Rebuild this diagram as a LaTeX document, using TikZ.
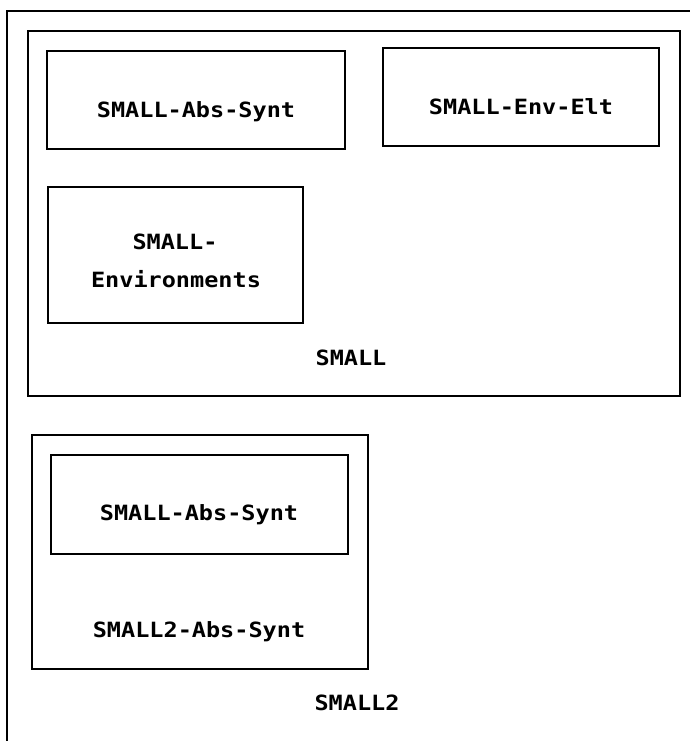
\documentclass[tikz,border=0pt]{standalone}
\usepackage{fontspec}
\newfontfamily\lblfont[FakeStretch=1.12]{DejaVu Sans Mono}
\usetikzlibrary{fit}
\begin{document}
\begin{tikzpicture}[x=1pt,y=-1pt,
  box/.style={draw, line width=2.1pt, inner sep=0pt},
  frame/.style={draw, line width=2.6pt},
  lbl/.style={font=\lblfont\bfseries\fontsize{21}{25}\selectfont, inner sep=0pt, text height=15pt, text depth=0pt, anchor=center}]
\useasboundingbox (0,0) rectangle (690,741);
% outer SMALL2 frame (runs off the right and bottom edges)
\coordinate (ftr) at (690,11);
\coordinate (ftl) at (7,11);
\coordinate (fbl) at (7,741);
\draw[frame] (ftr) -- (ftl) -- (fbl);
% SMALL container
\node[box, line width=2.4pt, fit={(28,31) (680,396)}] (small) {};
\node[box, fit={(47,51) (345,149)}] (sas) {};
\node[box, fit={(383,48) (659,146)}] (see) {};
\node[box, fit={(48,187) (303,323)}] (senv) {};
\node[lbl] (tsas) at (196,110) {SMALL-Abs-Synt};
\node[lbl] (tsee) at (521,107) {SMALL-Env-Elt};
\node[lbl] (tsenv1) at (175,242) {SMALL-};
\node[lbl] (tsenv2) at (176,280) {Environments};
\node[lbl] (tsmall) at (351,358) {SMALL};
% SMALL2-Abs-Synt container
\node[box, fit={(32,435) (368,669)}] (s2as) {};
\node[box, fit={(51,455) (348,554)}] (sas2) {};
\node[lbl] (tsas2) at (199,513) {SMALL-Abs-Synt};
\node[lbl] (ts2as) at (199,630) {SMALL2-Abs-Synt};
\node[lbl] (tsmall2) at (357,703) {SMALL2};
\end{tikzpicture}
\end{document}
